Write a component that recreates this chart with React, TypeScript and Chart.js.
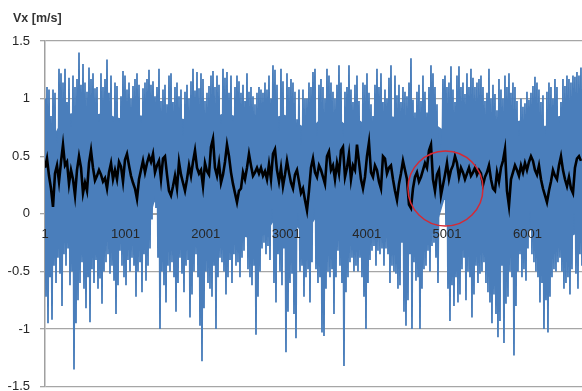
import { useEffect, useRef } from 'react';
import { Chart, registerables } from 'chart.js';

Chart.register(...registerables);

// ---- data ----
const X_TICKS = [1, 1001, 2001, 3001, 4001, 5001, 6001];
const Y_TICKS = [-1.5, -1, -0.5, 0, 0.5, 1, 1.5];
const Y_MIN = -1.5;
const Y_MAX = 1.5;
const FIRST_SAMPLE = 1;
const LAST_SAMPLE = 6679;
// sample distance between consecutive plotted extremes (envelope points)
const SAMPLES_PER_STEP = 12.435;
// sample distance between points of the dense-core outline
const CORE_STEP = 124.35;
const Y_TITLE = 'Vx [m/s]';
const HIGHLIGHT_SAMPLE = 4981;
const HIGHLIGHT_VALUE = 0.22;

// local maxima of the raw Vx signal
const BLUE_HIGH = [
  1.0, 1.1, 1.08, 0.85, 1.08, 1.05, 0.62, 1.26, 1.22, 1.14,
  1.26, 0.97, 1.18, 0.76, 1.2, 1.1, 1.17, 1.40, 1.12, 1.30,
  1.14, 1.06, 1.27, 1.17, 1.22, 1.09, 1.1, 0.8, 1.22, 1.1,
  1.17, 1.34, 1.05, 1.2, 0.8, 1.14, 1.11, 0.8, 1.02, 1.24,
  1.2, 1.08, 1.14, 1.0, 1.11, 1.17, 1.22, 1.12, 0.8, 1.09,
  1.14, 1.17, 1.25,
  1.12, 1.15, 1.02, 1.1, 1.26, 0.98, 1.08, 1.12, 0.95, 1.2,
  1.22, 0.97, 1.1, 1.14, 1.02, 1.08, 0.68, 1.06, 1.12, 1.0,
  1.15, 1.26, 1.07, 1.23, 1.09, 1.22, 1.17, 0.98, 1.05, 1.11,
  1.2, 1.24, 1.1, 1.2, 1.12, 0.78, 1.26, 1.18, 1.23, 1.05,
  1.2, 0.8, 1.1, 1.2, 1.15, 1.05, 1.12, 0.98, 1.22, 1.06,
  1.1, 1.02, 0.95, 1.05, 1.1,
  1.08, 1.05, 1.14, 1.08, 1.2, 1.0, 1.29, 1.25, 1.12, 0.72,
  1.26, 1.15, 0.85, 1.22, 1.1, 1.17, 1.14, 1.06, 0.82, 1.08,
  0.6, 1.08, 1.0, 1.0, 1.14, 1.1, 1.23, 1.26, 0.68, 1.12,
  1.17, 1.1, 1.0, 1.26, 1.2, 1.14, 1.06, 1.0, 1.12, 1.29,
  1.14, 0.7, 1.06, 1.1, 1.29, 1.08, 0.97, 1.12, 1.2, 0.98,
  0.66, 1.14, 1.12, 1.22, 1.05,
  0.95, 0.85, 1.12, 1.26, 1.1, 1.22, 0.97, 1.08, 1.0, 1.18,
  1.29, 0.82, 1.2, 1.03, 1.12, 0.97, 1.1, 1.06, 1.02, 1.14,
  1.35, 0.99, 0.88, 1.06, 1.12, 0.98, 1.2, 1.06, 0.88, 1.1,
  1.29, 1.22, 1.1, 0.95, 0.65, 0.6, 1.17, 1.2, 1.1, 1.14,
  1.28, 1.08, 0.97, 1.2, 1.28, 1.1, 1.14, 1.04, 1.22, 1.1,
  1.26, 1.18, 1.1, 1.14, 1.17,
  1.2, 1.1, 0.98, 1.05, 1.26, 1.0, 1.12, 1.04, 0.9, 1.17,
  1.08, 1.0, 1.2, 1.1, 1.22, 1.05, 1.14, 1.1, 0.98, 0.68,
  1.0, 0.93, 0.96, 1.06, 0.99, 1.05, 1.11, 1.19, 1.14, 1.08,
  0.97, 1.03, 0.68, 1.06, 1.14, 1.1, 1.0, 1.17, 1.1, 0.82,
  0.97, 1.17, 1.11, 1.2, 1.17, 1.14, 1.2, 1.19, 1.23, 1.2,
  1.27,
];

// local minima of the raw Vx signal
const BLUE_LOW = [
  -0.72, -0.95, -0.55, -0.92, -0.45, -0.6, -0.38, -0.52, -0.8, -0.35,
  -0.45, -0.3, -0.62, -0.5, -1.35, -0.95, -0.75, -0.6, -0.42, -0.65,
  -0.82, -0.55, -0.94, -0.48, -0.6, -0.4, -0.65, -0.56, -0.78, -0.5,
  -0.42, -0.35, -0.52, -0.45, -0.58, -0.87, -0.62, -0.32, -0.45, -0.55,
  -0.62, -0.4, -0.5, -0.38, -0.45, -0.72, -0.5, -0.42, -0.68, -0.35,
  -0.58, -0.45, -0.3,
  -0.05, 0.1, 0.05, -0.38, -1.0, -0.5, -0.62, -0.77, -0.45, -0.5,
  -0.42, -0.55, -0.85, -0.6, -0.38, -0.52, -0.68, -0.45, -0.4, -0.9,
  -0.7, -0.5, -0.35, -0.55, -0.97, -1.28, -0.82, -0.5, -0.6, -0.65,
  -0.72, -0.45, -1.0, -0.55, -0.38, -0.42, -0.5, -0.7, -0.55, -0.4,
  -0.6, -0.35, -0.45, -0.42, -0.55, -0.38, -0.32, -0.2, -0.48, -0.55,
  -0.62, -0.45, -1.05, -0.72, -0.5,
  -0.3, -0.25, -0.35, -0.28, -0.4, 0.05, -0.6, -0.77, -0.35, -0.5,
  -0.62, -0.3, -1.2, -0.85, -0.6, -0.52, -0.87, -1.08, 0.0, -0.5,
  -0.45, -0.72, -0.55, -0.48, -0.77, -0.42, 0.05, -0.48, -0.6, -0.55,
  -1.03, -1.06, -0.65, -0.5, -0.55, -0.48, -0.87, -0.55, -0.32, -0.45,
  -0.6, -1.32, -0.68, -0.55, -0.42, -0.38, -0.5, -0.45, -0.5, -0.38,
  -0.55, -0.72, -1.0, -0.6, -0.4,
  -0.32, -0.28, -0.45, -0.32, -0.35, -0.3, -0.45, -0.3, -0.35, -0.6,
  -0.45, -0.5, -0.52, -0.65, -0.62, -0.25, -0.85, -0.97, -0.75, -0.35,
  -1.0, -0.42, -0.58, -0.55, -1.0, -0.65, -0.48, -0.45, -0.32, -0.5,
  -0.28, -0.25, -0.38, -0.6, 0.05, 0.16, 0.12, -0.1, -0.65, -0.93,
  -0.62, -0.8, -0.55, -0.77, -0.7, -0.48, -0.38, -0.75, -0.5, -0.55,
  -0.9, -0.7, -0.45, -0.6, -0.52,
  -0.5, -0.42, -0.6, -0.68, -0.77, -0.95, -0.7, -0.87, -1.07, -0.93,
  -0.45, -1.12, -0.78, -0.72, -0.5, -0.55, -1.23, -0.8, -0.5, -0.35,
  -0.55, -0.48, -0.58, -0.3, 0.02, -0.35, -0.42, -0.5, -0.55, -0.77,
  -0.6, -1.0, -0.75, -1.03, -0.72, -0.55, -0.48, -0.5, -0.42, -0.38,
  -0.5, -0.65, -0.6, -0.55, -0.7, -0.48, 0.0, -0.52, -0.65, -0.35,
  -0.45,
];

// upper and lower edge of the dense (solid) part of the raw signal
const CORE_TOP = [
  0.82, 0.7, 0.86, 0.88, 0.84, 0.86, 0.88, 0.84, 0.82, 0.86,
  0.85, 0.86, 0.88, 0.84, 0.82, 0.86, 0.87, 0.84, 0.88, 0.85,
  0.83, 0.86, 0.86, 0.84, 0.86, 0.8, 0.75, 0.78, 0.86, 0.85,
  0.78, 0.84, 0.78, 0.82, 0.86, 0.84, 0.86, 0.83, 0.85, 0.78,
  0.72, 0.86, 0.87, 0.85, 0.84, 0.82, 0.84, 0.8, 0.82, 0.84,
  0.76, 0.84, 0.86, 0.88, 0.88,
];
const CORE_BOTTOM = [
  -0.3, -0.28, -0.25, -0.25, -0.22, -0.25, -0.2, -0.22, -0.2, -0.18,
  -0.2, 0.12, -0.2, -0.22, -0.25, -0.22, -0.2, -0.18, -0.22, -0.25,
  -0.2, -0.22, -0.18, -0.05, -0.15, -0.1, -0.18, -0.05, -0.2, -0.22,
  -0.25, -0.22, -0.2, -0.18, -0.2, -0.22, -0.25, -0.2, -0.22, -0.15,
  0.14, -0.2, -0.22, -0.25, -0.22, -0.25, -0.28, -0.25, -0.18, -0.1,
  -0.22, -0.2, -0.22, -0.18, -0.2,
];

// moving average (black)
const MOVING_AVG = [
  0.40, 0.48, 0.33, 0.22, 0.06, 0.35, 0.42, 0.28, 0.45, 0.6,
  0.42, 0.45, 0.26, 0.38, 0.3, 0.16, 0.38, 0.5, 0.4, 0.18,
  0.27, 0.2, 0.44, 0.55, 0.4, 0.29, 0.33, 0.38, 0.34, 0.28,
  0.31, 0.22, 0.36, 0.44, 0.3, 0.38, 0.3, 0.45, 0.41, 0.28,
  0.47, 0.52, 0.42, 0.33, 0.27, 0.22, 0.13, 0.3, 0.38, 0.46,
  0.36, 0.44, 0.5,
  0.45, 0.52, 0.36, 0.42, 0.46, 0.3, 0.48, 0.5, 0.34, 0.2,
  0.16, 0.24, 0.33, 0.22, 0.45, 0.34, 0.27, 0.2, 0.3, 0.42,
  0.33, 0.45, 0.55, 0.4, 0.35, 0.38, 0.24, 0.44, 0.37, 0.34,
  0.58, 0.65, 0.4, 0.33, 0.44, 0.27, 0.34, 0.45, 0.6, 0.5,
  0.36, 0.26, 0.18, 0.1, 0.2, 0.22, 0.36, 0.3, 0.4, 0.52,
  0.42, 0.33, 0.36, 0.4, 0.35,
  0.4, 0.33, 0.37, 0.3, 0.43, 0.3, 0.52, 0.56, 0.38, 0.28,
  0.4, 0.24, 0.34, 0.46, 0.36, 0.27, 0.22, 0.34, 0.38, 0.28,
  0.18, 0.22, 0.12, 0.03, 0.2, 0.4, 0.48, 0.36, 0.32, 0.42,
  0.38, 0.32, 0.26, 0.5, 0.54, 0.38, 0.42, 0.3, 0.44, 0.35,
  0.55, 0.58, 0.32, 0.4, 0.52, 0.3, 0.42, 0.38, 0.6, 0.45,
  0.3, 0.22, 0.32, 0.5, 0.62,
  0.36, 0.32, 0.42, 0.38, 0.28, 0.22, 0.5, 0.48, 0.35, 0.4,
  0.42, 0.3, 0.2, 0.12, 0.26, 0.35, 0.46, 0.38, 0.3, 0.08,
  0.05, 0.22, 0.32, 0.36, 0.28, 0.32, 0.38, 0.44, 0.4, 0.55,
  0.6, 0.3, 0.2, 0.34, 0.38, 0.16, 0.25, 0.34, 0.44, 0.3,
  0.38, 0.42, 0.5, 0.44, 0.32, 0.4, 0.36, 0.3, 0.35, 0.4,
  0.33, 0.36, 0.4, 0.34, 0.38,
  0.35, 0.25, 0.32, 0.36, 0.42, 0.3, 0.22, 0.2, 0.36, 0.28,
  0.4, 0.46, 0.56, 0.2, 0.07, 0.3, 0.36, 0.42, 0.38, 0.33,
  0.42, 0.36, 0.44, 0.38, 0.45, 0.5, 0.46, 0.38, 0.34, 0.42,
  0.3, 0.22, 0.16, 0.1, 0.2, 0.28, 0.38, 0.33, 0.3, 0.42,
  0.5, 0.38, 0.3, 0.24, 0.32, 0.22, 0.18, 0.4, 0.48, 0.5,
  0.46,
];

const BLUE = '#4A7EBB';
const GRID = '#A6A6A6';
const TEXT = '#262626';
const FONT = "'Liberation Sans', Arial, sans-serif";

function buildRaw() {
  const pts: { x: number; y: number }[] = [];
  for (let k = 0; k < BLUE_HIGH.length; k++) {
    pts.push({ x: FIRST_SAMPLE + 2 * k * SAMPLES_PER_STEP, y: BLUE_HIGH[k] });
    pts.push({ x: FIRST_SAMPLE + (2 * k + 1) * SAMPLES_PER_STEP, y: BLUE_LOW[k] });
  }
  return pts;
}

function buildCore(arr: number[]) {
  return arr.map((v, j) => ({ x: FIRST_SAMPLE + j * CORE_STEP, y: v }));
}

function buildAvg() {
  return MOVING_AVG.map((v, k) => ({ x: FIRST_SAMPLE + 2 * k * SAMPLES_PER_STEP, y: v }));
}

const overlayPlugin = {
  id: 'overlay',
  afterDatasetsDraw(chart: any) {
    const { ctx, scales } = chart;
    const cx = scales.x.getPixelForValue(HIGHLIGHT_SAMPLE);
    const cy = scales.y.getPixelForValue(HIGHLIGHT_VALUE);
    ctx.save();
    ctx.beginPath();
    ctx.arc(cx, cy, 37.5, 0, Math.PI * 2);
    ctx.strokeStyle = '#D42A35';
    ctx.lineWidth = 1.5;
    ctx.stroke();
    ctx.restore();
  },
  afterDraw(chart: any) {
    const { ctx } = chart;
    ctx.save();
    ctx.font = `bold 12.5px ${FONT}`;
    ctx.fillStyle = '#333333';
    ctx.textAlign = 'left';
    ctx.textBaseline = 'middle';
    ctx.fillText(Y_TITLE, 13, 19);
    ctx.restore();
  },
};

export default function App() {
  const ref = useRef<HTMLCanvasElement | null>(null);

  useEffect(() => {
    if (!ref.current) return;
    Chart.defaults.font.family = FONT;
    const chart = new Chart(ref.current, {
      type: 'line',
      data: {
        datasets: [
          {
            label: 'moving average',
            data: buildAvg(),
            borderColor: '#000000',
            borderWidth: 2.6,
            pointRadius: 0,
            tension: 0,
            fill: false,
            order: 0,
          },
          {
            label: 'Vx',
            data: buildRaw(),
            borderColor: BLUE,
            borderWidth: 1.8,
            pointRadius: 0,
            tension: 0,
            fill: false,
            order: 1,
          },
          {
            label: 'core top',
            data: buildCore(CORE_TOP),
            borderWidth: 0,
            borderColor: 'rgba(0,0,0,0)',
            backgroundColor: BLUE,
            pointRadius: 0,
            tension: 0,
            fill: '+1',
            order: 2,
          },
          {
            label: 'core bottom',
            data: buildCore(CORE_BOTTOM),
            borderWidth: 0,
            borderColor: 'rgba(0,0,0,0)',
            pointRadius: 0,
            tension: 0,
            fill: false,
            order: 3,
          },
        ],
      },
      options: {
        animation: false,
        responsive: false,
        maintainAspectRatio: false,
        events: [],
        layout: { padding: { top: 41, bottom: 4.3, left: 0, right: 0 } },
        plugins: {
          legend: { display: false },
          tooltip: { enabled: false },
          title: { display: false },
        },
        scales: {
          x: {
            type: 'linear',
            min: FIRST_SAMPLE,
            max: LAST_SAMPLE,
            position: { y: 0 } as any,
            grid: { display: false, drawTicks: false, tickLength: 0 },
            border: { display: true, color: '#A0A0A0', width: 2, z: 0 },
            ticks: {
              z: 1,
              padding: 13,
              color: TEXT,
              font: { size: 13 },
              autoSkip: false,
              maxRotation: 0,
              callback: (v: any) => String(v),
            },
            afterBuildTicks: (s: any) => {
              s.ticks = X_TICKS.map((v) => ({ value: v }));
            },
          },
          y: {
            type: 'linear',
            min: Y_MIN,
            max: Y_MAX,
            grid: { color: GRID, lineWidth: 1.3, tickLength: 5, drawTicks: true, tickColor: GRID },
            border: { display: true, color: '#A0A0A0', width: 1.5 },
            ticks: {
              padding: 10,
              color: TEXT,
              font: { size: 13 },
              callback: (v: any) => String(v),
            },
            afterBuildTicks: (s: any) => {
              s.ticks = Y_TICKS.map((v) => ({ value: v }));
            },
            afterFit: (s: any) => {
              s.width = 45;
              s.paddingTop = 0;
              s.paddingBottom = 0;
            },
          },
        },
      },
      plugins: [overlayPlugin],
    });
    return () => chart.destroy();
  }, []);

  return (
    <div style={{ position: 'fixed', left: 0, top: 0, width: 582, height: 391, background: '#ffffff' }}>
      <canvas ref={ref} width={582} height={391} style={{ display: 'block', width: 582, height: 391 }} />
    </div>
  );
}
